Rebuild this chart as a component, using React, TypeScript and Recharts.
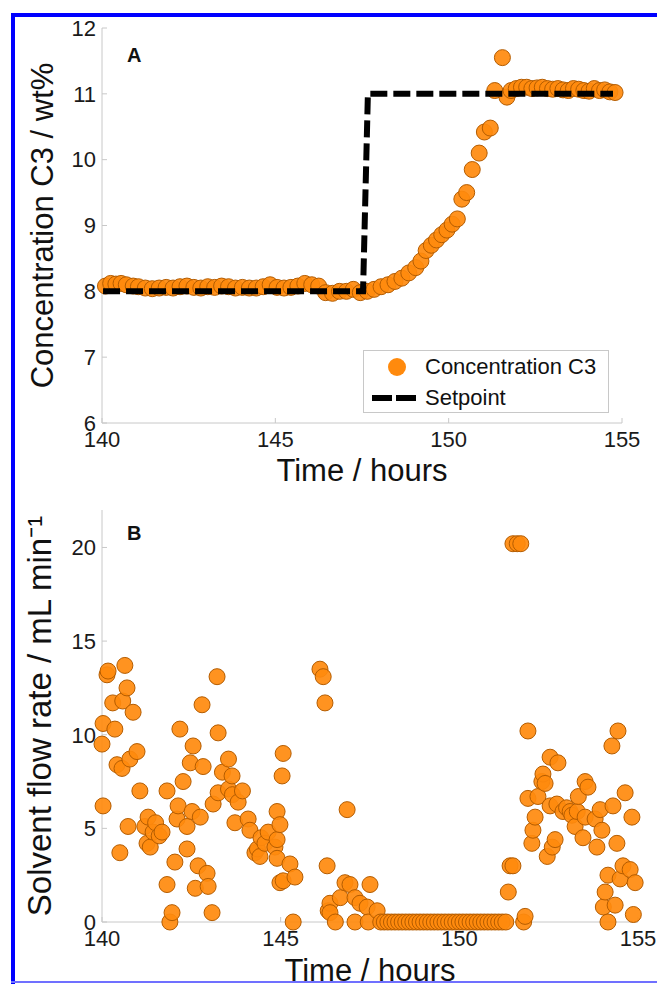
import { ComposedChart, ScatterChart, Scatter, XAxis, YAxis, Legend } from 'recharts';

const FONT = '"Liberation Sans", Arial, sans-serif';
const ORANGE = '#ff8a0d';
const ORANGE_EDGE = '#b45c00';
const AXIS = '#c8c8c8';

const timeTicks = [140, 145, 150, 155];
const concTicks = [6, 7, 8, 9, 10, 11, 12];
const flowTicks = [0, 5, 10, 15, 20];

// panel A: measured C3 concentration (wt%)
const concHours = [
  140.1, 140.25, 140.4, 140.55, 140.7, 140.9, 141.05, 141.25, 141.45, 141.65,
  141.85, 142.05, 142.25, 142.45, 142.65, 142.85, 143.05, 143.25, 143.45, 143.65,
  143.85, 144.05, 144.25, 144.45, 144.65, 144.85, 145.05, 145.25, 145.45, 145.65,
  145.85, 146.05, 146.25, 146.45, 146.65, 146.85, 147.05, 147.25, 147.45,
  147.65, 147.85, 148.05, 148.25, 148.45, 148.65, 148.85, 149.05, 149.2, 149.35,
  149.5, 149.65, 149.8, 149.95, 150.1, 150.25, 150.38, 150.52, 150.68, 150.88,
  151.03, 151.2, 151.33, 151.55, 151.68, 151.8,
  151.95, 152.1, 152.25, 152.4, 152.55, 152.7, 152.85, 153.0, 153.15, 153.3,
  153.45, 153.6, 153.75, 153.9, 154.05, 154.2, 154.35, 154.5, 154.65, 154.8,
];
const concValues = [
  8.08, 8.12, 8.11, 8.12, 8.1, 8.08, 8.07, 8.05, 8.04, 8.05,
  8.06, 8.05, 8.07, 8.08, 8.06, 8.05, 8.07, 8.06, 8.08, 8.07,
  8.05, 8.06, 8.05, 8.05, 8.07, 8.1, 8.06, 8.05, 8.06, 8.08,
  8.12, 8.1, 8.08, 7.98, 7.97, 8.0, 8.0, 8.03, 7.98,
  8.0, 8.03, 8.07, 8.1, 8.15, 8.2, 8.28, 8.36, 8.46, 8.62,
  8.7, 8.78, 8.86, 8.93, 9.02, 9.1, 9.4, 9.5, 9.85, 10.1,
  10.42, 10.48, 11.05, 11.55, 10.95, 11.05,
  11.08, 11.1, 11.1, 11.08, 11.09, 11.1, 11.08, 11.07, 11.08, 11.06,
  11.05, 11.08, 11.07, 11.05, 11.04, 11.08, 11.05, 11.06, 11.03, 11.02,
];

// panel A: setpoint
const setpointHours = [140.03, 147.53, 147.67, 154.74];
const setpointValues = [8, 8, 11, 11];

// panel B: solvent flow rate (mL/min)
const flowHours = [
  140.0, 140.03, 140.03, 140.14, 140.17, 140.3, 140.36, 140.42, 140.5, 140.56,
  140.58, 140.64, 140.7, 140.73, 140.78, 140.87, 140.98, 141.06, 141.2, 141.26,
  141.29, 141.35, 141.43, 141.5, 141.6, 141.68, 141.82, 141.82, 141.9, 141.96,
  142.04, 142.1, 142.13, 142.18, 142.27, 142.38, 142.38, 142.47, 142.52, 142.55,
  142.61, 142.69, 142.75, 142.8, 142.83, 142.94, 142.97, 143.08, 143.11, 143.22,
  143.25, 143.25, 143.37, 143.54, 143.54, 143.64, 143.65, 143.72, 143.81, 143.93,
  144.09, 144.14, 144.28, 144.35, 144.42, 144.45, 144.56, 144.65, 144.84, 144.9,
  144.9, 144.9, 144.98, 144.98, 145.04, 145.07, 145.07, 145.26, 145.35, 145.4,
  146.1, 146.19, 146.24, 146.3, 146.33, 146.38, 146.38, 146.53, 146.67, 146.8,
  146.86, 146.94, 147.08, 147.08, 147.22, 147.42, 147.45, 147.5, 147.7,
  147.8, 147.9, 148.0, 148.1, 148.2, 148.3, 148.4, 148.5, 148.6, 148.7,
  148.8, 148.9, 149.0, 149.1, 149.2, 149.3, 149.4, 149.5, 149.6, 149.7,
  149.8, 149.9, 150.0, 150.1, 150.2, 150.3, 150.4, 150.5, 150.6, 150.7,
  150.8, 150.9, 151.0, 151.1, 151.2, 151.3,
  151.37, 151.42, 151.5, 151.5, 151.62, 151.72, 151.8, 151.84, 151.92, 151.92,
  152.03, 152.06, 152.12, 152.2, 152.31, 152.34, 152.4, 152.46, 152.54, 152.54,
  152.6, 152.68, 152.73, 152.76, 152.9, 153.0, 153.1, 153.15, 153.24, 153.3,
  153.33, 153.46, 153.52, 153.52, 153.6, 153.8, 153.85, 153.94, 153.99, 154.03,
  154.08, 154.16, 154.16, 154.27, 154.3, 154.36, 154.41, 154.44, 154.5, 154.58,
  154.64, 154.78, 154.83, 154.87, 154.92,
];
const flowValues = [
  9.5, 10.6, 6.2, 13.2, 13.4, 11.7, 10.3, 8.4, 3.7, 8.2,
  11.8, 13.7, 12.5, 5.1, 8.7, 11.2, 9.1, 7.0, 5.1, 4.2,
  5.6, 4.0, 4.8, 5.3, 4.6, 4.8, 7.0, 2.0, 0.0, 0.5,
  3.2, 5.5, 6.2, 10.3, 7.5, 5.1, 3.9, 8.5, 5.9, 9.4,
  1.8, 3.0, 5.6, 11.6, 8.3, 2.6, 1.9, 0.5, 6.3, 13.1,
  10.1, 6.9, 8.0, 8.7, 7.1, 7.8, 6.8, 5.3, 6.4, 7.0,
  5.5, 4.9, 3.7, 3.9, 3.5, 4.5, 4.2, 4.8, 4.0, 5.9,
  4.4, 3.4, 2.1, 5.2, 7.8, 9.0, 2.2, 3.1, 0.0, 2.4,
  13.5, 13.1, 11.7, 3.0, 0.6, 1.0, 0.5, 0.0, 1.3, 2.1,
  6.0, 2.0, 1.3, 0.0, 1.0, 0.8, 0.0, 2.0, 0.6,
  0, 0, 0, 0, 0, 0, 0, 0, 0, 0,
  0, 0, 0, 0, 0, 0, 0, 0, 0, 0,
  0, 0, 0, 0, 0, 0, 0, 0, 0, 0,
  0, 0, 0, 0, 0, 0,
  1.6, 3.0, 3.0, 20.2, 20.2, 20.2, 0.0, 0.3, 10.2, 6.6,
  4.2, 4.9, 5.6, 6.7, 7.5, 7.9, 7.4, 3.5, 8.8, 6.2,
  4.0, 4.4, 6.3, 8.5, 5.9, 6.1, 5.9, 5.7, 5.1, 5.9,
  6.7, 4.5, 7.5, 5.6, 7.2, 5.5, 4.0, 6.0, 4.9, 0.8,
  1.6, 2.5, 0.0, 9.4, 6.2, 0.9, 4.2, 10.2, 2.3, 3.0,
  6.9, 2.8, 5.6, 0.4, 2.1,
];

const concData = concHours.map((x, i) => ({ x, y: concValues[i] }));
const setpointData = setpointHours.map((x, i) => ({ x, y: setpointValues[i] }));
const flowData = flowHours.map((x, i) => ({ x, y: flowValues[i] }));

const tickStyle = { fill: '#1a1a1a', fontSize: 22, fontFamily: FONT };
const titleStyle = { fill: '#111', fontSize: 31, fontFamily: FONT };
const titleStyleB = { fill: '#111', fontSize: 33, fontFamily: FONT };

const Dot = (p: any) => (
  <circle cx={p.cx} cy={p.cy} r={8} fill={ORANGE} fillOpacity={0.92} stroke={ORANGE_EDGE} strokeWidth={1} />
);
const NoDot = () => <g />;

const LegendBox = () => (
  <div style={{
    position: 'relative',
    width: 246,
    height: 63,
    boxSizing: 'border-box',
    border: '1px solid #c8c8c8',
    background: '#fff',
    fontFamily: FONT,
    fontSize: 22,
    lineHeight: '22px',
    color: '#111',
  }}>
    <svg width={246} height={63} style={{ position: 'absolute', left: -1, top: -1 }}>
      <circle cx={34} cy={17} r={9} fill={ORANGE} />
      <line x1={9} y1={48} x2={54} y2={48} stroke="#000" strokeWidth={6} strokeDasharray="20 4" />
    </svg>
    <div style={{ position: 'absolute', left: 61, top: 5 }}>Concentration C3</div>
    <div style={{ position: 'absolute', left: 61, top: 36 }}>Setpoint</div>
  </div>
);

const panelLetter = (top: number): React.CSSProperties => ({
  position: 'absolute',
  left: 127,
  top,
  fontFamily: FONT,
  fontWeight: 'bold',
  fontSize: 20,
  lineHeight: '20px',
  color: '#111',
});

export default function App() {
  return (
    <div style={{ position: 'absolute', left: 0, top: 0, width: 657, height: 984, background: '#fff', overflow: 'hidden' }}>
      <div style={{ position: 'absolute', left: 11, top: 13, width: 646, height: 4, background: '#0000ff' }} />
      <div style={{ position: 'absolute', left: 11, top: 13, width: 4, height: 971, background: '#0000ff' }} />
      <div style={{ position: 'absolute', left: 11, top: 981, width: 646, height: 2, background: '#7070ff' }} />

      <div style={{ position: 'absolute', left: 0, top: 0 }}>
        <ComposedChart width={657} height={490} margin={{ top: 28, right: 35, bottom: 7, left: 62 }}>
          <XAxis
            dataKey="x"
            type="number"
            domain={[140, 155]}
            ticks={timeTicks}
            interval={0}
            height={60}
            stroke={AXIS}
            tickSize={-5}
            tickMargin={13}
            tick={tickStyle}
            label={{ value: 'Time / hours', position: 'center', dy: 17, style: titleStyle }}
          />
          <XAxis xAxisId="top" orientation="top" dataKey="x" type="number" domain={[140, 155]} ticks={timeTicks} interval={0} height={0} stroke={AXIS} tickSize={-5} tickFormatter={() => ''} />
          <YAxis
            dataKey="y"
            type="number"
            domain={[6, 12]}
            ticks={concTicks}
            interval={0}
            width={40}
            stroke={AXIS}
            tickSize={-5}
            tickMargin={11}
            tick={tickStyle}
            label={{ value: 'Concentration C3 / wt%', angle: -90, position: 'center', dx: -40, style: titleStyle }}
          />
          <YAxis yAxisId="right" orientation="right" dataKey="y" type="number" domain={[6, 12]} ticks={concTicks} interval={0} width={0} stroke={AXIS} tickSize={-5} tickFormatter={() => ''} />
          <Legend
            layout="vertical"
            align="center"
            verticalAlign="middle"
            wrapperStyle={{ left: 363, top: 350, width: 246, height: 63 }}
            content={() => <LegendBox />}
          />
          <Scatter data={concData} name="Concentration C3" shape={Dot} isAnimationActive={false} />
          <Scatter
            data={setpointData}
            name="Setpoint"
            shape={NoDot}
            line={{ stroke: '#000', strokeWidth: 6, strokeDasharray: '17 6', fill: 'none' }}
            isAnimationActive={false}
          />
        </ComposedChart>
      </div>
      <div style={panelLetter(45)}>A</div>

      <div style={{ position: 'absolute', left: 0, top: 490 }}>
        <ScatterChart width={657} height={494} margin={{ top: 20, right: 19, bottom: 2, left: 62 }}>
          <XAxis
            dataKey="x"
            type="number"
            domain={[140, 155]}
            ticks={timeTicks}
            interval={0}
            height={60}
            stroke={AXIS}
            tickSize={-5}
            tickMargin={13}
            tick={tickStyle}
            label={{ value: 'Time / hours', position: 'center', dy: 18, style: titleStyle }}
          />
          <XAxis xAxisId="top" orientation="top" dataKey="x" type="number" domain={[140, 155]} ticks={timeTicks} interval={0} height={0} stroke={AXIS} tickSize={-5} tickFormatter={() => ''} />
          <YAxis
            dataKey="y"
            type="number"
            domain={[0, 22]}
            ticks={flowTicks}
            interval={0}
            width={40}
            stroke={AXIS}
            tickSize={-5}
            tickMargin={11}
            tick={tickStyle}
            label={{ value: 'Solvent flow rate / mL min⁻¹', angle: -90, position: 'center', dx: -43, style: titleStyleB }}
          />
          <YAxis yAxisId="right" orientation="right" dataKey="y" type="number" domain={[0, 22]} ticks={flowTicks} interval={0} width={0} stroke={AXIS} tickSize={-5} tickFormatter={() => ''} />
          <Scatter data={flowData} name="Solvent flow rate" shape={Dot} isAnimationActive={false} />
        </ScatterChart>
      </div>
      <div style={panelLetter(523)}>B</div>
    </div>
  );
}
